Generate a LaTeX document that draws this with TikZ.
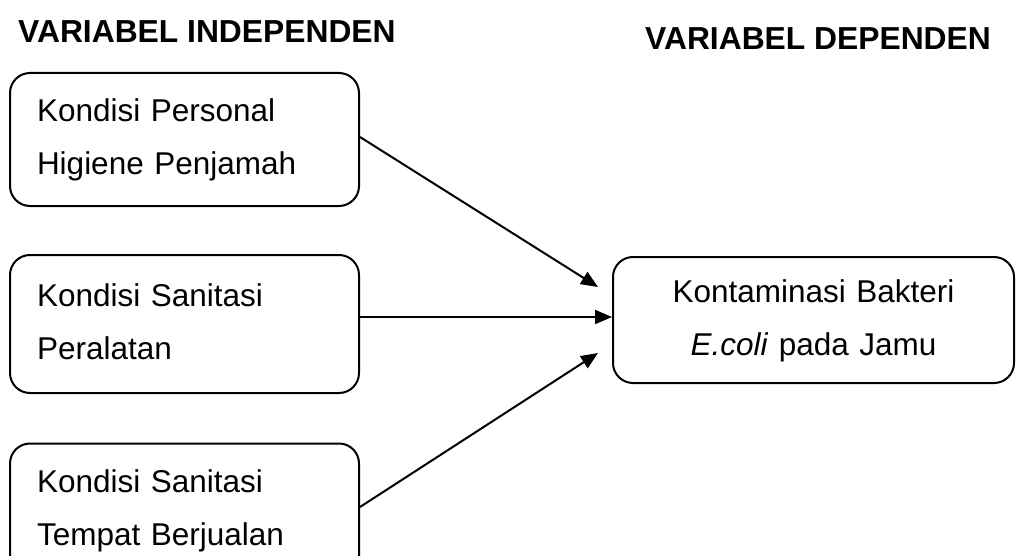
\documentclass[tikz,border=0pt]{standalone}
\usepackage{fontspec}
\setmainfont{Liberation Sans}
\usetikzlibrary{arrows.meta}
\begin{document}
\begin{tikzpicture}[x=1pt,y=-1pt,
  box/.style={draw,line width=2pt,rounded corners=20pt,minimum width=349pt,minimum height=133pt,
    font=\fontsize{31.5}{53}\selectfont,text height=23pt,text depth=59pt,align=left,text width=295pt},
  rbox/.style={box,minimum width=401pt,minimum height=126pt,align=center,text width=380pt},
  ttl/.style={font=\bfseries\fontsize{31.8}{35}\selectfont,anchor=base west,inner sep=0pt},
  arr/.style={line width=2pt,-{Triangle[length=17pt,width=14pt]}}]
\useasboundingbox (0,0) rectangle (1016,556);
\clip (0,0) rectangle (1016,556);
\node[ttl] (t1) at (18,43) {VARIABEL INDEPENDEN};
\node[ttl] (t2) at (645,50) {VARIABEL DEPENDEN};
\node[box] (b1) at (184.5,139.5) {Kondisi Personal\\Higiene Penjamah};
\node[box,minimum height=138pt] (b2) at (184.5,324) {Kondisi Sanitasi\\Peralatan};
\node[box] (b3) at (184.5,510) {Kondisi Sanitasi\\Tempat Berjualan};
\node[rbox] (r) at (813.5,320) {Kontaminasi Bakteri\\\textit{E.coli} pada Jamu};
\coordinate (e1) at (598,287);
\coordinate (e3) at (598,353);
\draw[arr] (b1.east |- 0,137) -- (e1);
\draw[arr] (b2.east |- 0,317) -- (r.west |- 0,317);
\draw[arr] (b3.east |- 0,507) -- (e3);
\end{tikzpicture}
\end{document}
